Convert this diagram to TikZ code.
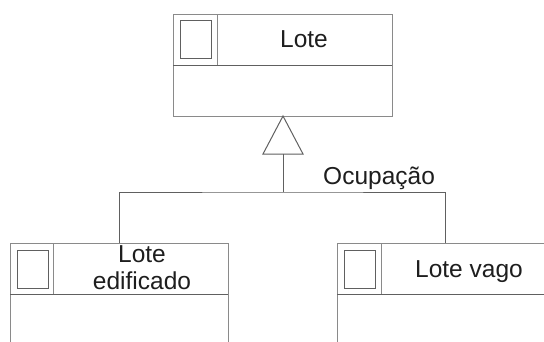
\documentclass[tikz,border=0pt]{standalone}
\usepackage{fontspec}
\setmainfont{Liberation Sans}
\definecolor{boxline}{HTML}{8A8A8A}
\definecolor{darkline}{HTML}{606060}
\definecolor{txt}{HTML}{1E1E1E}
\begin{document}
\begin{tikzpicture}[x=1pt,y=-1pt,
  classbox/.style={draw=boxline,line width=1pt,rectangle,inner sep=0pt,outer sep=0pt,fill=white},
  div/.style={draw=darkline,line width=1pt},
  icon/.style={draw=darkline,line width=1pt},
  conn/.style={draw=darkline,line width=1pt},
  lbl/.style={text=txt,font=\fontsize{24.5}{27}\selectfont,inner sep=0pt,align=center}]
\useasboundingbox (0,0) rectangle (544,341);
\clip (0,0) rectangle (544,341);
\fill[white] (0,0) rectangle (544,341);
% top class
\node[classbox,minimum width=219pt,minimum height=102pt] (top) at (282.5,65) {};
\draw[div] (173,65) -- (392,65);
\draw[boxline,line width=1pt] (217,14) -- (217,65);
\draw[icon] (180,20) rectangle (211,58);
\node[lbl,anchor=base] (toplbl) at (304,47) {Lote};
% left class
\node[classbox,minimum width=218pt,minimum height=120pt] (lb) at (119,303) {};
\draw[div] (10,294) -- (228,294);
\draw[boxline,line width=1pt] (53,243) -- (53,294);
\draw[icon] (17,250) rectangle (48,288);
% right class
\node[classbox,minimum width=216pt,minimum height=120pt] (rb) at (445,303) {};
\draw[div] (337,294) -- (553,294);
\draw[boxline,line width=1pt] (381,243) -- (381,294);
\draw[icon] (344,250) rectangle (375,288);
% generalization
\coordinate (apex) at (283,116);
\coordinate (tri) at (283,154);
\coordinate (bar) at (283,192);
\draw[conn,fill=white] (apex) -- (263,154) -- (303,154) -- cycle;
\draw[conn] (tri) -- (bar);
\draw[conn] (lb.north) |- (bar) -| (rb.north);
\node[lbl,anchor=base west] (occ) at (323,184) {Ocupação};
% lower labels
\node[lbl,anchor=base] (lblL) at (142,289) {Lote\\edificado};
\node[lbl,anchor=base] (lblR) at (469,277) {Lote vago};
\end{tikzpicture}
\end{document}
